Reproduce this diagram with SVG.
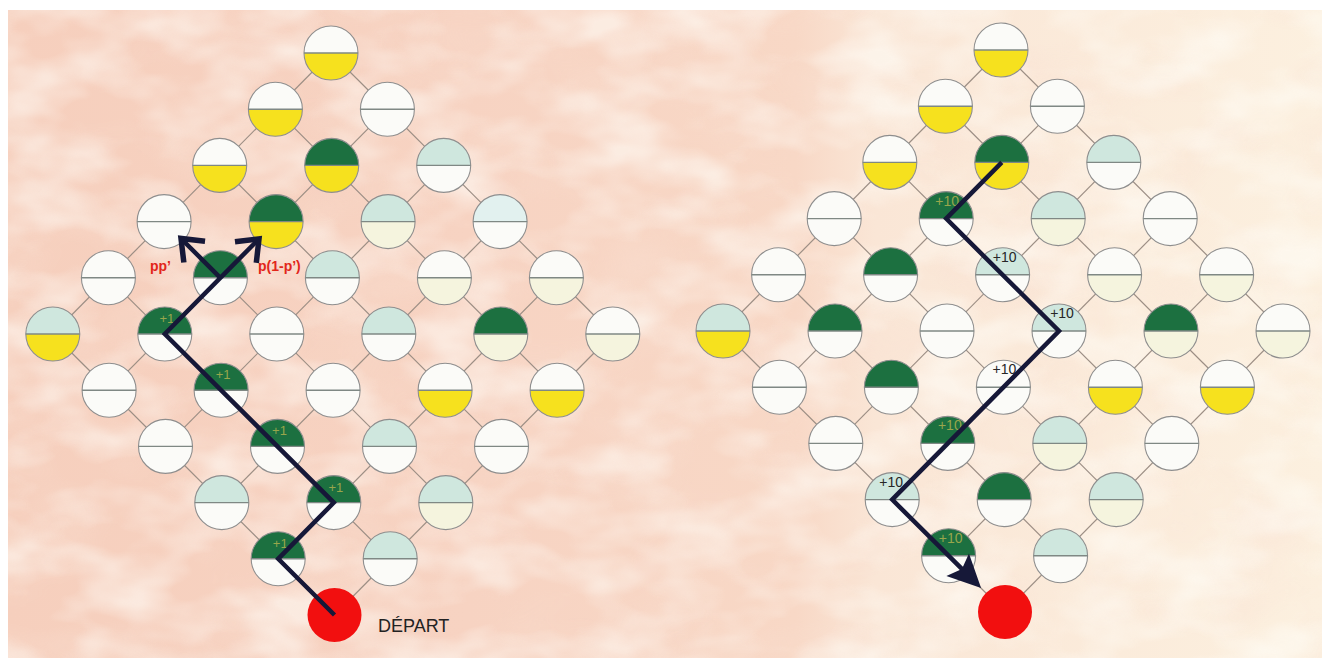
<svg xmlns="http://www.w3.org/2000/svg" width="1322" height="658" viewBox="0 0 1322 658">
<style>
.w{fill:#fbfbf8}.y{fill:#f6e11e}.g{fill:#1c7040}.m{fill:#cfe7de}.c{fill:#f5f4de}.b{fill:#e2f1ef}
.lat{stroke:#9c8e84;stroke-width:1.2;fill:none}
.walk{stroke:#161838;stroke-width:4.5;fill:none;stroke-linejoin:miter;stroke-linecap:butt}
text{font-family:"Liberation Sans",Arial,sans-serif}
.lg{fill:#98a64c;font-size:13px;text-anchor:middle}
.ld{fill:#262626;font-size:14px;text-anchor:middle}
.lgt{fill:#98a64c;font-size:14px;text-anchor:middle}
.pr{fill:#e2261a;font-size:14px;font-weight:bold}
.start{fill:#f20f0f}
</style>
<defs>
<path id="top" d="M-27,0A27,27 0 0 1 27,0Z"/>
<path id="bot" d="M-27,0A27,27 0 0 0 27,0Z"/>
<g id="rim"><circle r="27" fill="none" stroke="#8e8e8e" stroke-width="1.1"/><line x1="-27" y1="0" x2="27" y2="0" stroke="#7f8884" stroke-width="1.4"/></g>
<marker id="chev" markerUnits="userSpaceOnUse" viewBox="-30 -20 40 40" markerWidth="40" markerHeight="40" refX="0" refY="0" orient="auto" overflow="visible">
<path d="M-19,-15L0,0L-19,15" fill="none" stroke="#161838" stroke-width="5.5"/>
</marker>
<marker id="tri" markerUnits="userSpaceOnUse" viewBox="-40 -20 60 40" markerWidth="60" markerHeight="40" refX="-20" refY="0" orient="auto" overflow="visible">
<path d="M0,0L-33,-16L-27,0L-33,16Z" fill="#161838"/>
</marker>
<linearGradient id="bg" x1="0" y1="0" x2="1" y2="0">
<stop offset="0" stop-color="#f6cfbd"/>
<stop offset="0.35" stop-color="#f7d3c2"/>
<stop offset="0.6" stop-color="#f8d8c6"/>
<stop offset="0.66" stop-color="#fae6d6"/>
<stop offset="1" stop-color="#fcf0df"/>
</linearGradient>
<filter id="tex" x="0" y="0" width="100%" height="100%">
<feTurbulence type="fractalNoise" baseFrequency="0.012 0.022" numOctaves="3" seed="7"/>
<feColorMatrix type="matrix" values="0 0 0 0 1  0 0 0 0 1  0 0 0 0 0.96  2.4 0 0 0 -0.95"/>
</filter>
<filter id="tex2" x="0" y="0" width="100%" height="100%">
<feTurbulence type="fractalNoise" baseFrequency="0.01 0.016" numOctaves="2" seed="21"/>
<feColorMatrix type="matrix" values="0 0 0 0 0.95  0 0 0 0 0.74  0 0 0 0 0.64  0 2.2 0 0 -1.0"/>
</filter>
</defs>

<g id="background">
<rect width="1322" height="658" fill="#ffffff"/>
<rect x="8" y="10" width="1314" height="648" fill="url(#bg)"/>
<rect x="8" y="10" width="1314" height="648" filter="url(#tex2)" opacity="0.45"/>
<rect x="8" y="10" width="1314" height="648" filter="url(#tex)" opacity="0.55"/>
</g>

<g id="connectors">
<g id="lattice-left" class="lat">
<line x1="334.5" y1="615" x2="612.8" y2="334"/>
<line x1="278.2" y1="558.8" x2="556.4" y2="277.8"/>
<line x1="221.8" y1="502.6" x2="500.1" y2="221.6"/>
<line x1="165.5" y1="446.4" x2="443.7" y2="165.4"/>
<line x1="109.1" y1="390.2" x2="387.4" y2="109.2"/>
<line x1="52.8" y1="334" x2="331" y2="53"/>
<line x1="334.5" y1="615" x2="52.8" y2="334"/>
<line x1="390.2" y1="558.8" x2="108.4" y2="277.8"/>
<line x1="445.8" y1="502.6" x2="164.1" y2="221.6"/>
<line x1="501.5" y1="446.4" x2="219.7" y2="165.4"/>
<line x1="557.1" y1="390.2" x2="275.4" y2="109.2"/>
<line x1="612.8" y1="334" x2="331" y2="53"/>
</g>
<g id="lattice-right" class="lat">
<line x1="1005" y1="612" x2="1283" y2="331"/>
<line x1="948.6" y1="555.8" x2="1226.6" y2="274.8"/>
<line x1="892.2" y1="499.6" x2="1170.2" y2="218.6"/>
<line x1="835.8" y1="443.4" x2="1113.8" y2="162.4"/>
<line x1="779.4" y1="387.2" x2="1057.4" y2="106.2"/>
<line x1="723" y1="331" x2="1001" y2="50"/>
<line x1="1005" y1="612" x2="723" y2="331"/>
<line x1="1060.6" y1="555.8" x2="778.6" y2="274.8"/>
<line x1="1116.2" y1="499.6" x2="834.2" y2="218.6"/>
<line x1="1171.8" y1="443.4" x2="889.8" y2="162.4"/>
<line x1="1227.4" y1="387.2" x2="945.4" y2="106.2"/>
<line x1="1283" y1="331" x2="1001" y2="50"/>
</g>
</g>

<g id="nodes-left">
<g id="L0-0" transform="translate(331,53)"><use href="#top" class="w"/><use href="#bot" class="y"/><use href="#rim"/></g>
<g id="L1-0" transform="translate(275.4,109.2)"><use href="#top" class="w"/><use href="#bot" class="y"/><use href="#rim"/></g>
<g id="L1-1" transform="translate(387.4,109.2)"><use href="#top" class="w"/><use href="#bot" class="w"/><use href="#rim"/></g>
<g id="L2-0" transform="translate(219.7,165.4)"><use href="#top" class="w"/><use href="#bot" class="y"/><use href="#rim"/></g>
<g id="L2-1" transform="translate(331.7,165.4)"><use href="#top" class="g"/><use href="#bot" class="y"/><use href="#rim"/></g>
<g id="L2-2" transform="translate(443.7,165.4)"><use href="#top" class="m"/><use href="#bot" class="w"/><use href="#rim"/></g>
<g id="L3-0" transform="translate(164.1,221.6)"><use href="#top" class="w"/><use href="#bot" class="w"/><use href="#rim"/></g>
<g id="L3-1" transform="translate(276.1,221.6)"><use href="#top" class="g"/><use href="#bot" class="y"/><use href="#rim"/></g>
<g id="L3-2" transform="translate(388.1,221.6)"><use href="#top" class="m"/><use href="#bot" class="c"/><use href="#rim"/></g>
<g id="L3-3" transform="translate(500.1,221.6)"><use href="#top" class="b"/><use href="#bot" class="w"/><use href="#rim"/></g>
<g id="L4-0" transform="translate(108.4,277.8)"><use href="#top" class="w"/><use href="#bot" class="w"/><use href="#rim"/></g>
<g id="L4-1" transform="translate(220.4,277.8)"><use href="#top" class="g"/><use href="#bot" class="w"/><use href="#rim"/></g>
<g id="L4-2" transform="translate(332.4,277.8)"><use href="#top" class="m"/><use href="#bot" class="w"/><use href="#rim"/></g>
<g id="L4-3" transform="translate(444.4,277.8)"><use href="#top" class="w"/><use href="#bot" class="c"/><use href="#rim"/></g>
<g id="L4-4" transform="translate(556.4,277.8)"><use href="#top" class="w"/><use href="#bot" class="c"/><use href="#rim"/></g>
<g id="L5-0" transform="translate(52.8,334)"><use href="#top" class="m"/><use href="#bot" class="y"/><use href="#rim"/></g>
<g id="L5-1" transform="translate(164.8,334)"><use href="#top" class="g"/><use href="#bot" class="w"/><use href="#rim"/><text class="lg" x="2" y="-11">+1</text></g>
<g id="L5-2" transform="translate(276.8,334)"><use href="#top" class="w"/><use href="#bot" class="w"/><use href="#rim"/></g>
<g id="L5-3" transform="translate(388.8,334)"><use href="#top" class="m"/><use href="#bot" class="w"/><use href="#rim"/></g>
<g id="L5-4" transform="translate(500.8,334)"><use href="#top" class="g"/><use href="#bot" class="c"/><use href="#rim"/></g>
<g id="L5-5" transform="translate(612.8,334)"><use href="#top" class="w"/><use href="#bot" class="c"/><use href="#rim"/></g>
<g id="L6-0" transform="translate(109.1,390.2)"><use href="#top" class="w"/><use href="#bot" class="w"/><use href="#rim"/></g>
<g id="L6-1" transform="translate(221.1,390.2)"><use href="#top" class="g"/><use href="#bot" class="w"/><use href="#rim"/><text class="lg" x="2" y="-11">+1</text></g>
<g id="L6-2" transform="translate(333.1,390.2)"><use href="#top" class="w"/><use href="#bot" class="w"/><use href="#rim"/></g>
<g id="L6-3" transform="translate(445.1,390.2)"><use href="#top" class="w"/><use href="#bot" class="y"/><use href="#rim"/></g>
<g id="L6-4" transform="translate(557.1,390.2)"><use href="#top" class="w"/><use href="#bot" class="y"/><use href="#rim"/></g>
<g id="L7-0" transform="translate(165.5,446.4)"><use href="#top" class="w"/><use href="#bot" class="w"/><use href="#rim"/></g>
<g id="L7-1" transform="translate(277.5,446.4)"><use href="#top" class="g"/><use href="#bot" class="w"/><use href="#rim"/><text class="lg" x="2" y="-11">+1</text></g>
<g id="L7-2" transform="translate(389.5,446.4)"><use href="#top" class="m"/><use href="#bot" class="w"/><use href="#rim"/></g>
<g id="L7-3" transform="translate(501.5,446.4)"><use href="#top" class="w"/><use href="#bot" class="w"/><use href="#rim"/></g>
<g id="L8-0" transform="translate(221.8,502.6)"><use href="#top" class="m"/><use href="#bot" class="w"/><use href="#rim"/></g>
<g id="L8-1" transform="translate(333.8,502.6)"><use href="#top" class="g"/><use href="#bot" class="w"/><use href="#rim"/><text class="lg" x="2" y="-11">+1</text></g>
<g id="L8-2" transform="translate(445.8,502.6)"><use href="#top" class="m"/><use href="#bot" class="c"/><use href="#rim"/></g>
<g id="L9-0" transform="translate(278.2,558.8)"><use href="#top" class="g"/><use href="#bot" class="w"/><use href="#rim"/><text class="lg" x="2" y="-11">+1</text></g>
<g id="L9-1" transform="translate(390.2,558.8)"><use href="#top" class="m"/><use href="#bot" class="w"/><use href="#rim"/></g>
<g id="L-start"><circle class="start" cx="334.5" cy="615" r="27"/><text x="378" y="632" font-size="18" fill="#222">DÉPART</text></g>
</g>

<g id="nodes-right">
<g id="R0-0" transform="translate(1001,50)"><use href="#top" class="w"/><use href="#bot" class="y"/><use href="#rim"/></g>
<g id="R1-0" transform="translate(945.4,106.2)"><use href="#top" class="w"/><use href="#bot" class="y"/><use href="#rim"/></g>
<g id="R1-1" transform="translate(1057.4,106.2)"><use href="#top" class="w"/><use href="#bot" class="w"/><use href="#rim"/></g>
<g id="R2-0" transform="translate(889.8,162.4)"><use href="#top" class="w"/><use href="#bot" class="y"/><use href="#rim"/></g>
<g id="R2-1" transform="translate(1001.8,162.4)"><use href="#top" class="g"/><use href="#bot" class="y"/><use href="#rim"/></g>
<g id="R2-2" transform="translate(1113.8,162.4)"><use href="#top" class="m"/><use href="#bot" class="w"/><use href="#rim"/></g>
<g id="R3-0" transform="translate(834.2,218.6)"><use href="#top" class="w"/><use href="#bot" class="w"/><use href="#rim"/></g>
<g id="R3-1" transform="translate(946.2,218.6)"><use href="#top" class="g"/><use href="#bot" class="w"/><use href="#rim"/><text class="lgt" x="1" y="-13">+10</text></g>
<g id="R3-2" transform="translate(1058.2,218.6)"><use href="#top" class="m"/><use href="#bot" class="c"/><use href="#rim"/></g>
<g id="R3-3" transform="translate(1170.2,218.6)"><use href="#top" class="w"/><use href="#bot" class="w"/><use href="#rim"/></g>
<g id="R4-0" transform="translate(778.6,274.8)"><use href="#top" class="w"/><use href="#bot" class="w"/><use href="#rim"/></g>
<g id="R4-1" transform="translate(890.6,274.8)"><use href="#top" class="g"/><use href="#bot" class="w"/><use href="#rim"/></g>
<g id="R4-2" transform="translate(1002.6,274.8)"><use href="#top" class="m"/><use href="#bot" class="w"/><use href="#rim"/><text class="ld" x="2" y="-13">+10</text></g>
<g id="R4-3" transform="translate(1114.6,274.8)"><use href="#top" class="w"/><use href="#bot" class="c"/><use href="#rim"/></g>
<g id="R4-4" transform="translate(1226.6,274.8)"><use href="#top" class="w"/><use href="#bot" class="c"/><use href="#rim"/></g>
<g id="R5-0" transform="translate(723,331)"><use href="#top" class="m"/><use href="#bot" class="y"/><use href="#rim"/></g>
<g id="R5-1" transform="translate(835,331)"><use href="#top" class="g"/><use href="#bot" class="w"/><use href="#rim"/></g>
<g id="R5-2" transform="translate(947,331)"><use href="#top" class="w"/><use href="#bot" class="w"/><use href="#rim"/></g>
<g id="R5-3" transform="translate(1059,331)"><use href="#top" class="m"/><use href="#bot" class="w"/><use href="#rim"/><text class="ld" x="3" y="-13">+10</text></g>
<g id="R5-4" transform="translate(1171,331)"><use href="#top" class="g"/><use href="#bot" class="c"/><use href="#rim"/></g>
<g id="R5-5" transform="translate(1283,331)"><use href="#top" class="w"/><use href="#bot" class="c"/><use href="#rim"/></g>
<g id="R6-0" transform="translate(779.4,387.2)"><use href="#top" class="w"/><use href="#bot" class="w"/><use href="#rim"/></g>
<g id="R6-1" transform="translate(891.4,387.2)"><use href="#top" class="g"/><use href="#bot" class="w"/><use href="#rim"/></g>
<g id="R6-2" transform="translate(1003.4,387.2)"><use href="#top" class="w"/><use href="#bot" class="w"/><use href="#rim"/><text class="ld" x="1" y="-13">+10</text></g>
<g id="R6-3" transform="translate(1115.4,387.2)"><use href="#top" class="w"/><use href="#bot" class="y"/><use href="#rim"/></g>
<g id="R6-4" transform="translate(1227.4,387.2)"><use href="#top" class="w"/><use href="#bot" class="y"/><use href="#rim"/></g>
<g id="R7-0" transform="translate(835.8,443.4)"><use href="#top" class="w"/><use href="#bot" class="w"/><use href="#rim"/></g>
<g id="R7-1" transform="translate(947.8,443.4)"><use href="#top" class="g"/><use href="#bot" class="w"/><use href="#rim"/><text class="lgt" x="2" y="-13">+10</text></g>
<g id="R7-2" transform="translate(1059.8,443.4)"><use href="#top" class="m"/><use href="#bot" class="c"/><use href="#rim"/></g>
<g id="R7-3" transform="translate(1171.8,443.4)"><use href="#top" class="w"/><use href="#bot" class="w"/><use href="#rim"/></g>
<g id="R8-0" transform="translate(892.2,499.6)"><use href="#top" class="m"/><use href="#bot" class="w"/><use href="#rim"/><text class="ld" x="-1" y="-13">+10</text></g>
<g id="R8-1" transform="translate(1004.2,499.6)"><use href="#top" class="g"/><use href="#bot" class="w"/><use href="#rim"/></g>
<g id="R8-2" transform="translate(1116.2,499.6)"><use href="#top" class="m"/><use href="#bot" class="c"/><use href="#rim"/></g>
<g id="R9-0" transform="translate(948.6,555.8)"><use href="#top" class="g"/><use href="#bot" class="w"/><use href="#rim"/><text class="lgt" x="2" y="-13">+10</text></g>
<g id="R9-1" transform="translate(1060.6,555.8)"><use href="#top" class="m"/><use href="#bot" class="w"/><use href="#rim"/></g>
<g id="R-start"><circle class="start" cx="1005" cy="612" r="27"/></g>
</g>

<g id="paths">
<polyline class="walk" points="334.5,615 278.2,558.8 333.8,502.6 164.8,334 259,238.8" marker-end="url(#chev)"/>
<line class="walk" x1="220.4" y1="277.8" x2="181" y2="238.5" marker-end="url(#chev)"/>
<polyline class="walk" points="1001.8,162.4 946.2,218.6 1059,331 892.2,499.6 966.9,573.9" marker-end="url(#tri)"/>
</g>

<g id="labels">
<text class="pr" x="150" y="271">pp’</text>
<text class="pr" x="258" y="271">p(1-p’)</text>
</g>
</svg>
